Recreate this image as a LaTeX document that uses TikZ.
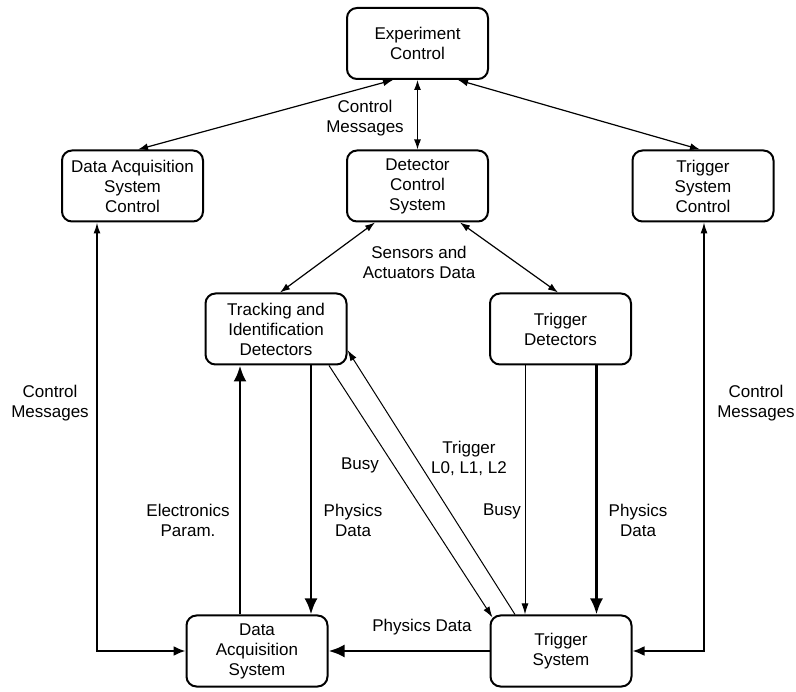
\documentclass[tikz,border=0pt]{standalone}
\usepackage{fontspec}
\setmainfont{Liberation Sans}
\usetikzlibrary{arrows.meta,calc}
\tikzset{
  box/.style={draw, line width=2pt, rounded corners=10pt, minimum width=141pt, minimum height=71pt, align=center, inner sep=2pt},
  lbl/.style={align=center, inner sep=0pt},
  thinarr/.style={line width=1pt, -{Latex[length=11pt,width=7pt]}},
  thinboth/.style={line width=1.2pt, {Latex[length=10pt,width=7pt]}-{Latex[length=10pt,width=7pt]}},
  ctrlup/.style={-{Latex[length=11pt,width=7pt]}},
  ctrlin/.style={line width=2.2pt, -{Latex[length=12pt,width=10pt]}},
  thickarr/.style={line width=2.8pt, -{Latex[length=16pt,width=13pt]}},
  every node/.style={font=\fontsize{17}{20}\selectfont}
}
\begin{document}
\begin{tikzpicture}[x=1pt,y=-1pt]
\useasboundingbox[fill=white] (0,0) rectangle (796,692);
% boxes
\node[box] (ec)   at (417.5,43.5) {Experiment\\Control};
\node[box] (dacs) at (132.5,186)  {Data Acquisition\\System\\Control};
\node[box] (dcs)  at (417.5,186)  {Detector\\Control\\System};
\node[box] (tsc)  at (703,186)    {Trigger\\System\\Control};
\node[box] (tid)  at (276,329)    {Tracking and\\Identification\\Detectors};
\node[box] (tdet) at (560.5,329)  {Trigger\\Detectors};
\node[box] (daq)  at (257,651)    {Data\\Acquisition\\System};
\node[box] (tsys) at (561,651)    {Trigger\\System};
% top connectors
\draw[thinboth] ($(ec.south)+(-24.5,0)$) -- ($(dacs.north)+(5.5,0)$);
\draw[thinboth] (ec.south) -- (dcs.north);
\draw[thinboth] ($(ec.south)+(40.5,0)$) -- ($(tsc.north)+(-3,0)$);
\draw[thinboth] ($(dcs.south)+(-42.5,0)$) -- ($(tid.north)+(4,0)$);
\draw[thinboth] ($(dcs.south)+(42.5,0)$) -- ($(tdet.north)+(-2.5,0)$);
% control messages side lines
\coordinate (lc) at ($(dacs.south)+(-35.5,0)$);
\coordinate (lcorner) at (lc |- daq.west);
\draw[ctrlup, line width=1.5pt] (lcorner) -- (lc);
\draw[ctrlin] ([xshift=-0.75pt]lcorner) -- (daq.west);
\coordinate (rc) at ($(tsc.south)+(1,0)$);
\coordinate (rcorner) at (rc |- tsys.east);
\draw[ctrlup, line width=1.1pt] (rcorner) -- (rc);
\draw[ctrlin] ([xshift=0.55pt]rcorner) -- (tsys.east);
% middle connectors
\draw[thickarr] ($(daq.north)+(-17,0)$) -- ($(tid.south)+(-36,0)$);
\draw[thickarr] ($(tid.south)+(35,0)$) -- ($(daq.north)+(54,0)$);
\draw[thinarr] ($(tid.south)+(53,0)$) -- ($(tsys.north west)+(3,3)$);
\draw[thinarr] ($(tsys.north)+(-46,0)$) -- ($(tid.east)+(0,21)$);
\draw[thinarr] ($(tdet.south)+(-35.5,0)$) -- ($(tsys.north)+(-36,0)$);
\draw[thickarr] ($(tdet.south)+(36,0)$) -- ($(tsys.north)+(35.5,0)$);
\draw[thickarr] (tsys.west) -- (daq.east);
% labels
\node[lbl] (l1) at (365,118) {Control\\Messages};
\node[lbl] (l2) at (419,262) {Sensors and\\Actuators Data};
\node[lbl] (l3) at (50,403)  {Control\\Messages};
\node[lbl] (l4) at (756,403) {Control\\Messages};
\node[lbl] (l5) at (188,520) {Electronics\\Param.};
\node[lbl] (l6) at (353,520) {Physics\\Data};
\node[lbl] (l7) at (360,465) {Busy};
\node[lbl] (l8) at (469,458) {Trigger\\L0, L1, L2};
\node[lbl] (l9) at (502,511) {Busy};
\node[lbl] (l10) at (638,520) {Physics\\Data};
\node[lbl] (l11) at (422,627) {Physics Data};
\end{tikzpicture}
\end{document}
